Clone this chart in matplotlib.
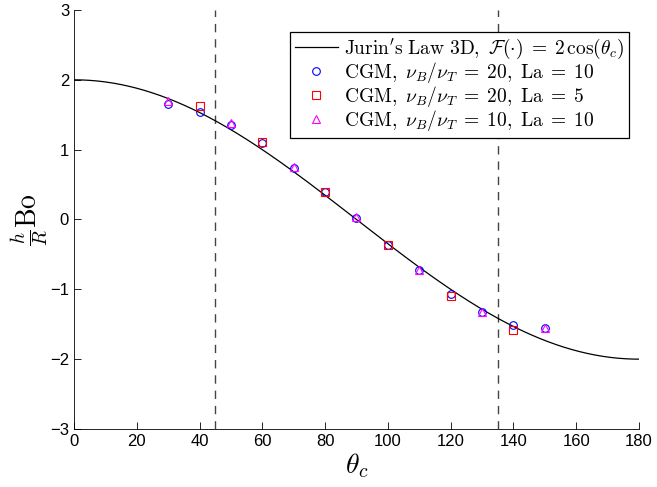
import matplotlib
matplotlib.use("Agg")
import matplotlib.pyplot as plt
import numpy as np

plt.rcParams["mathtext.fontset"] = "cm"
plt.rcParams["font.family"] = ["Liberation Sans", "DejaVu Sans"]

# CGM results, nu_B/nu_T = 20, La = 10
theta_a = [30, 40, 50, 60, 70, 80, 90, 100, 110, 120, 130, 140, 150]
h_a = [1.66, 1.54, 1.36, 1.09, 0.74, 0.39, 0.02, -0.36, -0.72, -1.06, -1.32, -1.51, -1.55]

# CGM results, nu_B/nu_T = 20, La = 5
theta_b = [40, 60, 80, 100, 120, 140]
h_b = [1.62, 1.11, 0.40, -0.36, -1.09, -1.58]

# CGM results, nu_B/nu_T = 10, La = 10
theta_c = [30, 50, 70, 90, 110, 130, 150]
h_c = [1.70, 1.38, 0.75, 0.03, -0.72, -1.32, -1.55]

# contact-angle limits marked with dashed lines
theta_limits = [45, 135]

# analytic curve
theta = np.linspace(0, 180, 361)
h_jurin = 2 * np.cos(np.radians(theta))

fig = plt.figure(figsize=(6.57, 4.87), dpi=100)
ax = fig.add_axes([0.1126, 0.1191, 0.86, 0.8604])

for t in theta_limits:
    ax.axvline(t, color="#444444", linestyle=(0, (6, 5)), linewidth=1.0, zorder=1)

ms = 5.5
ax.plot(theta, h_jurin, color="black", linewidth=0.9,
        label=r"$\mathrm{Jurin's\ Law\ 3D},\ \mathcal{F}(\cdot)\;=\;2\,\cos(\theta_c)$")
ax.plot(theta_a, h_a, "o", color="blue", markerfacecolor="none", markersize=ms,
        markeredgewidth=0.8, label=r"$\mathrm{CGM},\ \nu_B/\nu_T\;=\;20,\ \mathrm{La}\;=\;10$")
ax.plot(theta_b, h_b, "s", color="red", markerfacecolor="none", markersize=ms,
        markeredgewidth=0.8, label=r"$\mathrm{CGM},\ \nu_B/\nu_T\;=\;20,\ \mathrm{La}\;=\;5$")
ax.plot(theta_c, h_c, "^", color="magenta", markerfacecolor="none", markersize=ms + 0.5,
        markeredgewidth=0.8, label=r"$\mathrm{CGM},\ \nu_B/\nu_T\;=\;10,\ \mathrm{La}\;=\;10$")

ax.set_xlim(0, 180)
ax.set_ylim(-3, 3)
ax.set_xticks(np.arange(0, 181, 20))
ax.set_yticks(np.arange(-3, 4, 1))
ax.tick_params(direction="in", labelsize=12, length=5, width=0.6)
ax.spines["top"].set_visible(False)
ax.spines["right"].set_visible(False)
ax.spines["left"].set_linewidth(0.6)
ax.spines["bottom"].set_linewidth(0.6)

ax.set_xlabel(r"$\theta_c$", fontsize=20, labelpad=2)
ax.set_ylabel(r"$\frac{h}{R}\mathrm{Bo}$", fontsize=20, labelpad=0)

leg = ax.legend(loc="upper right", bbox_to_anchor=(0.982, 0.9475), fontsize=14,
                fancybox=False, framealpha=1, edgecolor="black", borderpad=0.25,
                labelspacing=-0.05, handlelength=2.2, handletextpad=0.3,
                borderaxespad=0)
leg.get_frame().set_linewidth(0.9)

fig.savefig("out.png", dpi=100)
